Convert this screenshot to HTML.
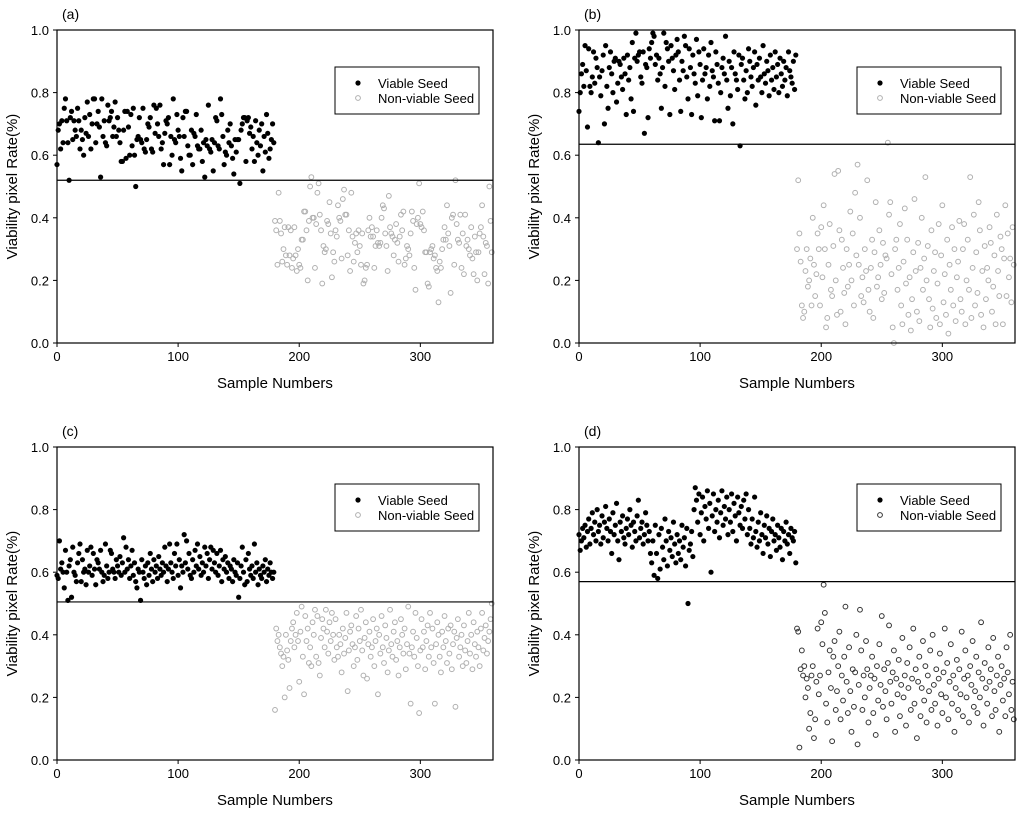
<!DOCTYPE html>
<html><head><meta charset="utf-8"><style>
html,body{margin:0;padding:0;background:#fff;}
svg{display:block;font-family:"Liberation Sans",Arial,sans-serif;}
</style></head><body>
<svg id="fig" width="1024" height="819" viewBox="0 0 1024 819" xmlns="http://www.w3.org/2000/svg"></svg>
<script>
// data (values in percent of 1.0)
const xTicks=[0,100,200,300];
const yTicks=[0,0.2,0.4,0.6,0.8,1.0];
const panelLabels=["(a)","(b)","(c)","(d)"];
const thresholds=[0.52,0.635,0.505,0.57];
const aViable=[57,68,70,62,71,64,75,78,71,64,52,72,74,65,71,68,66,75,71,62,68,65,60,72,67,77,66,73,62,70,78,78,64,70,74,69,53,78,66,71,64,63,76,71,72,74,66,69,77,66,72,68,64,58,58,68,74,59,74,69,60,73,63,75,60,50,65,66,72,65,64,75,62,61,65,70,69,72,62,61,76,67,75,70,66,76,62,64,57,67,71,70,72,57,66,60,78,65,64,73,68,66,59,55,72,66,74,74,63,60,60,68,57,67,66,73,63,62,62,68,58,64,53,65,63,76,62,61,65,55,64,72,71,63,62,78,73,66,57,61,60,68,64,70,63,59,54,65,61,65,65,51,68,70,72,72,58,71,72,67,69,62,66,58,71,64,60,68,63,70,55,66,61,73,67,59,62,65,70,64];
const aNonviable=[39,36,25,48,39,35,26,30,37,28,25,37,28,36,24,27,37,28,23,30,25,24,33,33,42,42,36,20,39,50,53,40,40,24,38,48,51,41,36,19,31,29,30,39,38,45,35,21,29,26,36,34,44,40,39,27,46,49,41,41,28,36,23,48,34,26,32,35,29,36,31,25,35,19,20,24,25,36,40,34,37,34,24,31,36,32,31,32,40,44,43,35,31,23,47,37,35,34,28,33,38,32,26,34,41,36,42,25,27,31,30,28,35,42,39,24,17,38,40,51,38,37,42,36,29,29,19,18,29,30,31,27,28,24,23,13,26,24,30,33,37,33,44,35,31,16,40,41,25,52,38,33,32,41,24,35,22,41,31,33,30,28,37,27,22,34,29,20,29,35,37,44,34,22,32,31,19,50,39,29];
const bViable=[74,80,86,89,82,95,87,69,94,82,80,85,93,83,91,88,64,85,79,87,92,70,95,82,75,88,93,86,80,90,91,77,83,90,89,85,81,91,86,73,92,84,88,78,96,74,91,99,90,92,93,85,83,93,67,89,88,72,94,91,96,99,98,89,92,84,91,86,75,88,99,82,96,94,90,73,95,91,87,81,92,97,93,84,74,90,87,98,95,85,78,94,88,73,92,86,83,97,79,93,89,72,84,94,86,88,78,92,82,96,87,85,71,93,89,83,71,80,88,91,86,98,84,75,90,79,88,70,93,86,84,81,92,63,89,91,84,78,87,80,94,90,85,82,88,93,76,89,84,91,85,80,95,86,83,90,87,79,92,84,88,81,93,85,89,80,91,86,82,90,84,88,79,93,87,85,83,90,81,92];
const bNonviable=[30,52,35,26,12,8,10,23,30,18,20,27,12,40,25,15,22,35,30,12,37,21,44,30,5,8,25,38,17,15,31,54,20,9,55,36,10,33,24,16,6,30,18,25,42,20,35,12,48,28,57,25,40,15,21,13,30,23,52,17,10,24,33,8,29,45,18,21,36,25,14,32,16,28,27,64,41,45,22,5,0,30,33,17,24,38,12,6,26,43,19,33,9,21,4,14,29,46,23,10,32,7,24,40,17,27,53,20,31,14,5,36,11,23,29,8,19,38,6,28,44,13,22,9,33,3,25,17,37,12,30,7,21,26,39,14,10,30,38,6,20,33,17,53,8,24,41,12,29,16,45,36,9,23,5,31,14,24,20,37,32,10,18,28,6,41,23,15,34,30,6,27,44,15,35,21,27,13,37,25];
const cViable=[59,58,70,61,63,60,55,67,60,51,62,64,52,68,60,59,57,63,66,69,57,64,60,61,56,67,60,62,68,59,66,61,56,64,63,61,67,60,57,59,69,62,58,60,67,66,61,60,58,64,62,60,65,59,63,71,60,68,61,64,58,62,67,59,63,57,55,61,60,51,64,60,58,62,56,63,59,66,61,57,64,60,62,58,65,61,59,63,60,68,62,57,61,69,63,60,58,66,62,69,59,64,55,62,60,72,63,70,61,66,59,58,64,60,67,62,69,61,65,59,63,60,68,62,66,58,64,68,61,67,63,60,66,59,62,67,57,64,61,65,60,63,58,62,61,57,64,60,59,63,52,58,62,68,60,56,64,57,66,61,59,62,58,69,60,63,56,61,59,58,62,60,64,57,61,59,63,60,58,60];
const cNonviable=[16,42,38,40,36,34,30,33,20,40,35,32,23,38,42,44,36,40,47,38,25,41,49,33,21,46,38,42,31,36,30,44,40,48,33,46,31,27,39,45,42,36,48,41,34,44,38,47,40,32,45,36,33,40,37,28,42,34,39,47,22,35,41,43,37,30,36,46,32,42,38,48,35,27,39,44,26,37,41,33,36,45,30,38,42,21,40,34,46,36,31,43,39,28,35,48,37,33,41,44,32,38,27,36,45,40,34,42,29,37,49,34,18,36,41,33,47,39,30,15,35,45,36,41,29,38,43,33,47,36,42,31,18,37,44,40,33,28,41,36,46,38,31,42,34,43,29,37,41,17,39,45,33,36,40,30,43,35,31,38,47,34,40,29,44,37,33,41,36,30,42,47,35,39,43,34,38,41,45,50];
const dViable=[72,67,70,74,71,75,68,73,77,69,74,79,72,76,70,80,73,75,69,78,71,76,81,74,70,77,73,66,79,72,75,82,70,64,76,73,78,71,69,74,77,72,80,75,68,76,73,70,78,83,71,74,76,69,72,79,75,70,73,66,63,70,59,75,66,58,72,61,74,68,64,77,70,62,73,67,71,65,76,69,63,72,66,70,64,75,68,71,62,74,50,67,69,73,65,80,87,83,76,85,72,79,84,70,81,77,86,74,82,60,78,85,73,80,76,83,71,79,86,75,81,77,84,72,80,76,85,73,82,78,70,84,79,75,81,74,83,77,85,72,80,74,69,77,71,84,73,68,76,70,79,72,66,75,71,78,69,74,65,73,77,70,72,67,75,71,68,74,64,73,70,76,69,72,66,74,71,70,73,63];
const dNonviable=[42,41,4,29,35,27,30,20,26,23,10,15,27,30,7,13,25,42,21,27,44,37,56,47,18,12,28,35,23,6,33,38,16,22,30,41,13,27,19,33,49,25,15,36,22,9,29,17,28,40,5,24,48,35,16,27,20,38,29,12,23,27,33,15,26,8,30,19,37,24,46,17,29,22,13,31,43,25,18,28,35,9,26,21,32,14,24,39,20,27,11,31,23,36,16,26,42,18,29,7,25,33,14,23,38,19,30,12,27,22,35,16,40,24,18,29,11,26,34,21,15,28,42,20,31,13,25,37,18,27,9,23,32,16,29,21,41,14,26,35,20,27,12,30,24,38,17,22,33,15,28,20,44,26,11,31,23,18,36,25,29,14,39,22,16,27,33,9,24,30,19,26,14,36,28,21,40,16,25,13];
const viableSets=[aViable,bViable,cViable,dViable];
const nonviableSets=[aNonviable,bNonviable,cNonviable,dNonviable];

const NS="http://www.w3.org/2000/svg";
const svg=document.getElementById('fig');
function mk(tag,attrs,parent,text){const e=document.createElementNS(NS,tag);for(const k in attrs)e.setAttribute(k,attrs[k]);if(text!==undefined)e.textContent=text;parent.appendChild(e);return e;}
const offsets=[[0,0],[522,0],[0,417],[522,417]];
const nvStroke=["#b0b0b0","#b0b0b0","#b0b0b0","#333"];
for(let p=0;p<4;p++){
  const ox=offsets[p][0],oy=offsets[p][1];
  const X0=57,X1=493,Y0=343,Y1=30;
  const sx=v=>X0+(v/360)*(X1-X0);
  const sy=v=>Y0-v*(Y0-Y1);
  const g=mk('g',{transform:`translate(${ox},${oy})`},svg);
  
  
  const lab=mk('text',{x:62,y:19,'font-size':14},g,panelLabels[p]);
  
  
  // points
  const vs=viableSets[p],ns=nonviableSets[p];
  for(let i=0;i<ns.length;i++){
    const c=mk('circle',{cx:sx(180+i),cy:sy(ns[i]/100),r:2.4,fill:'none',stroke:nvStroke[p],'stroke-width':1},g);
    
    
  }
  for(let i=0;i<vs.length;i++){
    const c=mk('circle',{cx:sx(i),cy:sy(vs[i]/100),r:2.6,fill:'#000'},g);
    
    
  }
  const th=mk('line',{x1:X0,x2:X1,y1:sy(thresholds[p]),y2:sy(thresholds[p]),stroke:'#000','stroke-width':1.2},g);
  
  
  const fr=mk('rect',{x:X0,y:Y1,width:X1-X0,height:Y0-Y1,fill:'none',stroke:'#000','stroke-width':1.2},g);
  
  
  xTicks.forEach(t=>{
    mk('line',{x1:sx(t),x2:sx(t),y1:Y0,y2:Y0+4,stroke:'#000'},g);
    const tl=mk('text',{x:sx(t),y:Y0+18,'font-size':13,'text-anchor':'middle'},g,String(t));
    
    
  });
  yTicks.forEach(t=>{
    mk('line',{x1:X0-4,x2:X0,y1:sy(t),y2:sy(t),stroke:'#000'},g);
    const tl=mk('text',{x:X0-8,y:sy(t)+5,'font-size':13,'text-anchor':'end'},g,t.toFixed(1));
    
    
  });
  const xt=mk('text',{x:(X0+X1)/2,y:Y0+45,'font-size':15,'text-anchor':'middle'},g,'Sample Numbers');
  
  
  const yt=mk('text',{x:0,y:0,'font-size':15,'text-anchor':'middle',transform:`translate(17,${(Y0+Y1)/2}) rotate(-90)`},g,'Viability pixel Rate(%)');
  
  
  const lg=mk('g',{},g);
  
  
  mk('rect',{x:335,y:67,width:144,height:47,fill:'#fff',stroke:'#000','stroke-width':1},lg);
  mk('circle',{cx:358,cy:83,r:2.6,fill:'#000'},lg);
  const l1=mk('text',{x:378,y:88,'font-size':13},lg,'Viable Seed');
  
  
  mk('circle',{cx:358,cy:98,r:2.4,fill:'none',stroke:nvStroke[p]},lg);
  const l2=mk('text',{x:378,y:103,'font-size':13},lg,'Non-viable Seed');
  
  
}
</script>
</body></html>
